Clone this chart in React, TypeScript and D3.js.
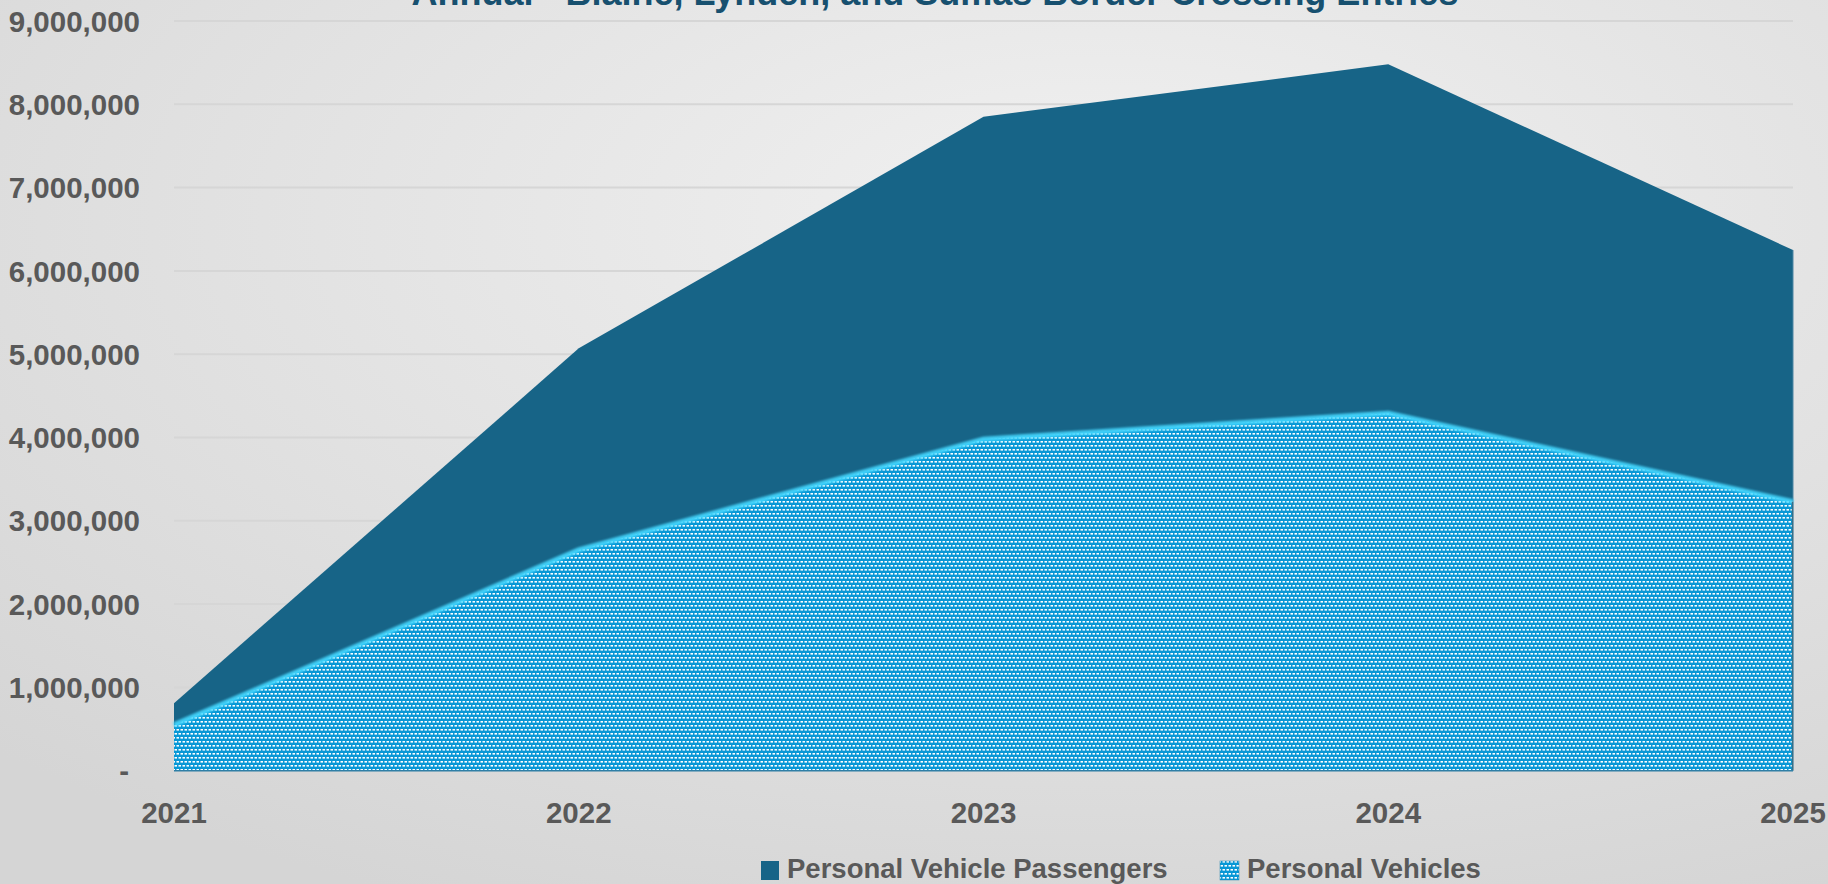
import * as d3 from 'd3'

const years = ['2021', '2022', '2023', '2024', '2025']
const passengers = [810000, 5070000, 7850000, 8480000, 6250000]
const vehicles = [550000, 2650000, 3980000, 4290000, 3230000]
const yTicks = [0, 1000000, 2000000, 3000000, 4000000, 5000000, 6000000, 7000000, 8000000, 9000000]
const seriesNames = ['Personal Vehicle Passengers', 'Personal Vehicles']
const title = 'Annual - Blaine, Lynden, and Sumas Border Crossing Entries'

const W = 1828
const H = 884
const DARK = '#176487'
const LIGHT = '#0898d6'
const TEXT = '#595959'
const FONT = '"Liberation Sans", Arial, sans-serif'

export default function App() {
  const x = d3.scalePoint<string>().domain(years).range([174, 1793])
  const y = d3.scaleLinear().domain([0, 9000000]).range([770.7, 21])
  const fmt = d3.format(',')

  const area = d3
    .area<number>()
    .x((_, i) => x(years[i]) ?? 0)
    .y0(y(0))
    .y1((d) => y(d))
  const line = d3
    .line<number>()
    .x((_, i) => x(years[i]) ?? 0)
    .y((d) => y(d))

  const [x0, x1] = x.range()

  return (
    <>
      <style>{`body{margin:0}`}</style>
      <svg width={W} height={H} style={{ display: 'block', fontFamily: FONT }}>
        <defs>
          <radialGradient id="bg" cx="0.6" cy="0.25" r="0.85">
            <stop offset="0%" stopColor="#f1f1f1" />
            <stop offset="100%" stopColor="#d5d5d5" />
          </radialGradient>
          <pattern id="dots" width="4" height="8" patternUnits="userSpaceOnUse">
            <rect width="4" height="8" fill={LIGHT} />
            <rect x="0.5" y="1" width="2.5" height="1.6" fill="#ffffff" />
            <rect x="2.5" y="5" width="2.5" height="1.6" fill="#ffffff" />
            <rect x="-1.5" y="5" width="2.5" height="1.6" fill="#ffffff" />
          </pattern>
          <filter id="glow" x="-5%" y="-5%" width="110%" height="110%">
            <feGaussianBlur stdDeviation="1" />
          </filter>
        </defs>

        <rect width={W} height={H} fill="url(#bg)" />

        {yTicks.slice(1).map((t) => (
          <line key={t} x1={x0} x2={x1} y1={y(t)} y2={y(t)} stroke="#d6d6d6" strokeWidth={2} />
        ))}

        <path d={area(passengers) || ''} fill={DARK} />
        <line x1={x1} x2={x1} y1={y(passengers[4])} y2={y(0)} stroke="#4f86a3" strokeWidth={1} />

        <path d={area(vehicles) || ''} fill="url(#dots)" />
        <path
          d={line(vehicles) || ''}
          fill="none"
          stroke="#45d8ff"
          strokeWidth={5}
          filter="url(#glow)"
          opacity={0.9}
        />
        <line x1={x1 - 0.5} x2={x1 - 0.5} y1={y(vehicles[4])} y2={y(0)} stroke="#3a6f86" strokeWidth={1.5} />
        <line x1={x0} x2={x1} y1={y(0)} y2={y(0)} stroke="#2f7fa6" strokeWidth={1.5} />

        {yTicks.map((t) => (
          <text
            key={t}
            x={t === 0 ? 129 : 140}
            y={y(t)}
            dy="0.36em"
            textAnchor="end"
            fill={TEXT}
            fontSize={29.5}
            fontWeight={700}
          >
            {t === 0 ? '-' : fmt(t)}
          </text>
        ))}

        {years.map((yr) => (
          <text
            key={yr}
            x={x(yr)}
            y={823}
            textAnchor="middle"
            fill={TEXT}
            fontSize={29.5}
            fontWeight={700}
          >
            {yr}
          </text>
        ))}

        <text x={935} y={5} textAnchor="middle" fill="#17506f" fontSize={36} fontWeight={700}>
          {title}
        </text>

        <rect x={761} y={861} width={18} height={19} fill={DARK} />
        <text x={787} y={878} fill={TEXT} fontSize={27.5} fontWeight={700}>
          {seriesNames[0]}
        </text>
        <rect x={1220} y={861} width={19} height={19} fill="url(#dots)" stroke="#2b86b0" strokeWidth={0.5} />
        <text x={1247} y={878} fill={TEXT} fontSize={27.5} fontWeight={700}>
          {seriesNames[1]}
        </text>
      </svg>
    </>
  )
}
